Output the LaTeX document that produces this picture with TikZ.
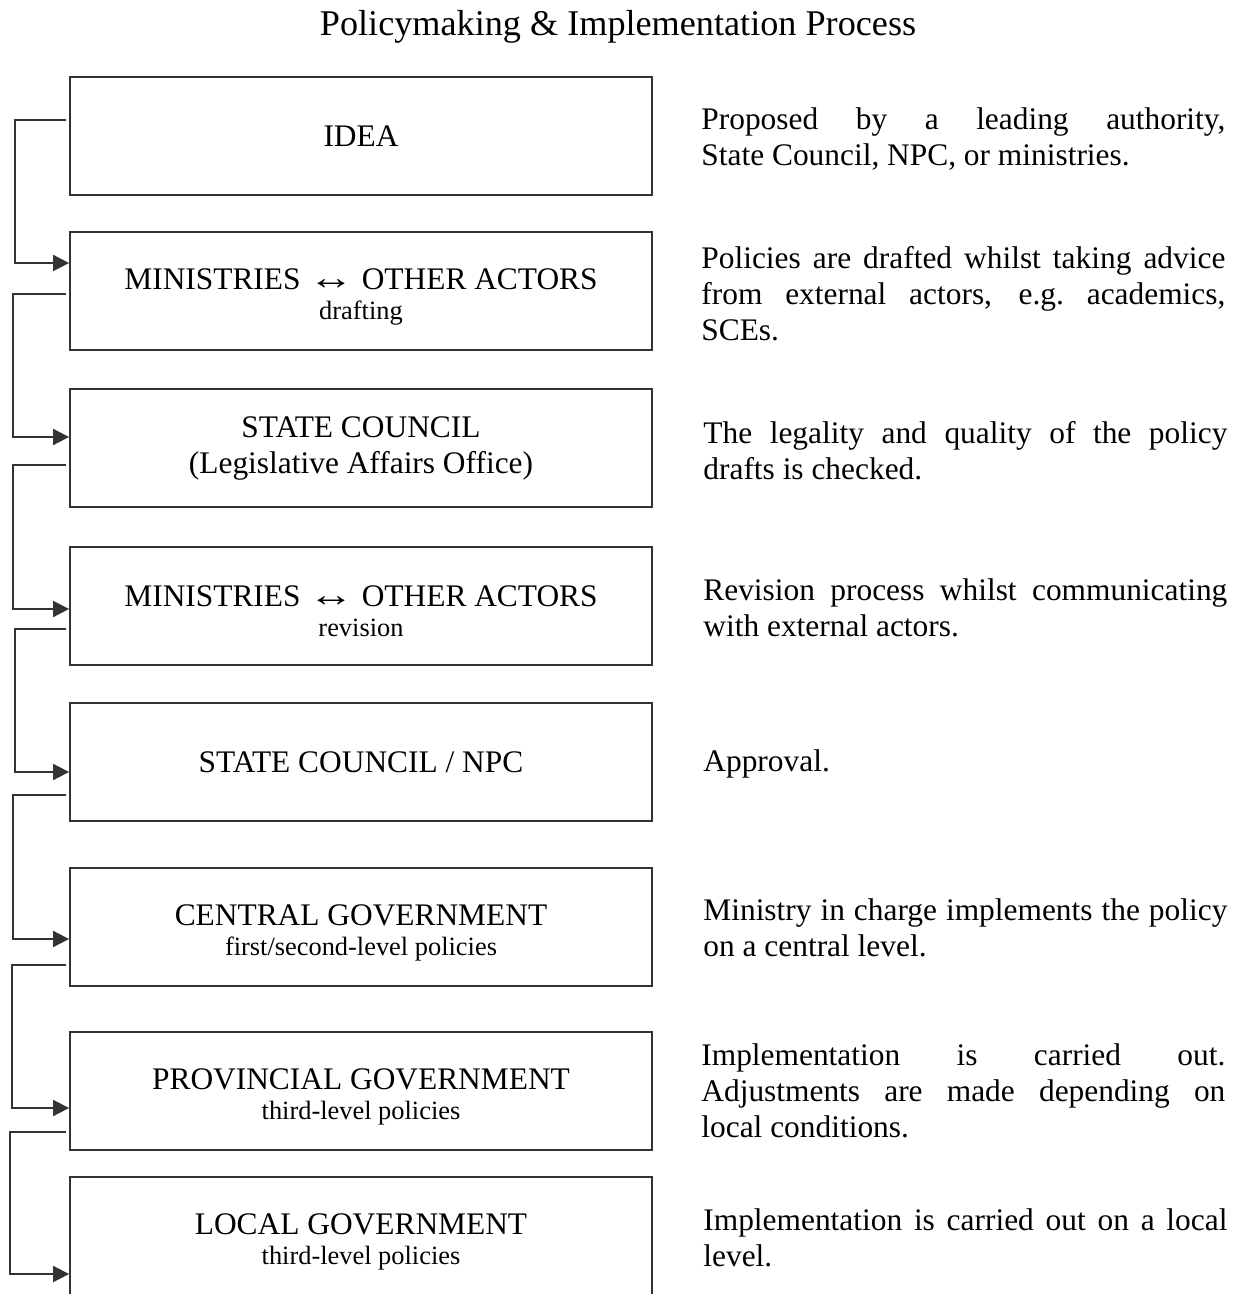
\documentclass[tikz,border=0pt]{standalone}
\usepackage{graphicx}
\usepackage{fontspec}
\setmainfont{Liberation Serif}
\usetikzlibrary{positioning,arrows.meta}

\tikzset{
  stage/.style={draw=black!80, line width=0.9pt, minimum width=291pt, minimum height=59pt,
    inner sep=0pt, align=center, font=\fontsize{15.7}{18}\selectfont},
  note/.style={anchor=west, inner sep=0pt, text width=262pt, align=justify,
    font=\fontsize{15.7}{18}\selectfont},
  flow/.style={draw=black!80, line width=0.9pt, -{Triangle[length=8pt,width=8pt]}},
}
\newcommand{\stagetwo}[2]{\rule{0pt}{16pt}#1\\[-3pt]{\fontsize{13.2}{15}\selectfont #2}}
\newcommand{\twoway}{\scalebox{1.45}[1.1]{↔}}

\begin{document}
\begin{tikzpicture}[x=0.5pt,y=-0.5pt]
		\useasboundingbox (0,0) rectangle (1239,1294);
		\node (title) at (618,27) {\fontsize{18.1}{21}\selectfont Policymaking \& Implementation Process};
		% stages
		\node[stage] (b1) at (361,136) {IDEA};
		\node[stage] (b2) at (361,291) {\stagetwo{MINISTRIES \twoway{} OTHER ACTORS}{drafting}};
		\node[stage] (b3) at (361,448) {STATE COUNCIL\\(Legislative Affairs Office)};
		\node[stage] (b4) at (361,606) {\stagetwo{MINISTRIES \twoway{} OTHER ACTORS}{revision}};
		\node[stage] (b5) at (361,762) {STATE COUNCIL / NPC};
		\node[stage] (b6) at (361,927) {\stagetwo{CENTRAL GOVERNMENT}{first/second-level policies}};
		\node[stage] (b7) at (361,1091) {\stagetwo{PROVINCIAL GOVERNMENT}{third-level policies}};
		\node[stage] (b8) at (361,1236) {\stagetwo{LOCAL GOVERNMENT}{third-level policies}};
		% descriptions
		\node[note] (n1) at (701,139) {Proposed by a leading authority,\linebreak State Council, NPC, or ministries.};
		\node[note] (n2) at (701,294) {Policies are drafted whilst taking advice\linebreak from external actors, e.g.\ academics,\linebreak SCEs.};
		\node[note] (n3) at (703,451) {The legality and quality of the policy\linebreak drafts is checked.};
		\node[note] (n4) at (703,608) {Revision process whilst communicating\linebreak with external actors.};
		\node[note] (n5) at (703,764) {Approval.};
		\node[note] (n6) at (703,928) {Ministry in charge implements the policy\linebreak on a central level.};
		\node[note] (n7) at (701,1091) {Implementation is carried out.\linebreak Adjustments are made depending on\linebreak local conditions.};
		\node[note] (n8) at (703,1238) {Implementation is carried out on a local\linebreak level.};
		% connectors: from/to/start shift/end shift/x of the run
		\foreach \i/\j/\s/\e/\x in {1/2/8/14/15, 2/3/-1.5/5.5/13, 3/4/-8.5/-1.5/13, 4/5/-11.5/-5/15,
		                            5/6/-16.5/-6/13, 6/7/-19/-8.5/12, 7/8/-20.5/-19/10}
			\draw[flow] ([xshift=-1.5pt,yshift=\s pt]b\i.west) coordinate (s)
				-- (\x,0 |- s) |- ([yshift=\e pt]b\j.west);
	\end{tikzpicture}
\end{document}
